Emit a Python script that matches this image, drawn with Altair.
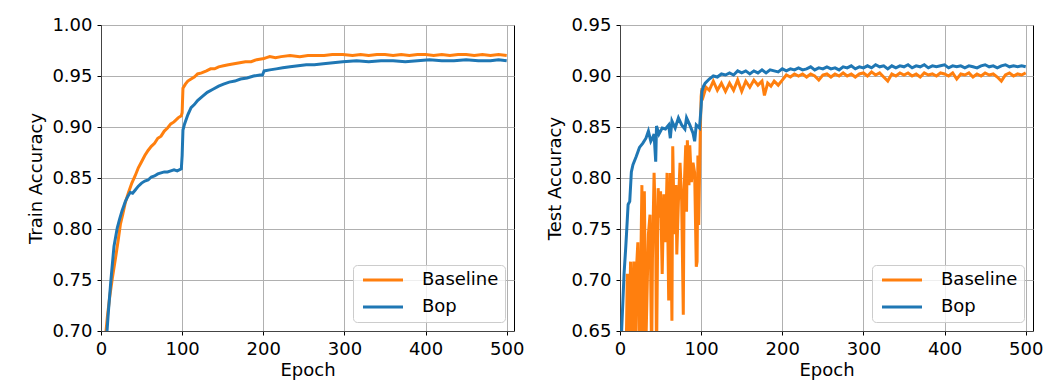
import altair as alt
import pandas as pd

# ---------------- data ----------------
train_base_epoch = [5, 8, 11, 14, 18, 21, 24, 27, 30, 34, 38, 42, 46, 50, 54, 58, 62, 66, 70, 74,
                    78, 82, 86, 90, 95, 99, 100, 101, 104, 107, 111, 115, 119, 124, 130, 135, 140,
                    145, 151, 157, 164, 171, 178, 185, 192, 199, 200, 204, 208, 215, 222, 233, 245,
                    255, 265, 275, 285, 298, 310, 320, 330, 340, 350, 360, 370, 380, 390, 400, 410,
                    420, 430, 440, 450, 460, 470, 480, 490, 500]
train_base_acc = [0.690, 0.715, 0.735, 0.752, 0.772, 0.788, 0.805, 0.815, 0.826, 0.836, 0.845,
                  0.852, 0.860, 0.866, 0.872, 0.877, 0.881, 0.884, 0.889, 0.891, 0.896, 0.899,
                  0.903, 0.905, 0.909, 0.911, 0.914, 0.938, 0.942, 0.945, 0.947, 0.949, 0.952,
                  0.953, 0.955, 0.957, 0.957, 0.959, 0.960, 0.961, 0.962, 0.963, 0.964, 0.964,
                  0.966, 0.967, 0.967, 0.968, 0.969, 0.968, 0.969, 0.970, 0.969, 0.970, 0.970,
                  0.970, 0.971, 0.971, 0.970, 0.971, 0.970, 0.971, 0.971, 0.970, 0.971, 0.970,
                  0.971, 0.971, 0.970, 0.971, 0.970, 0.971, 0.971, 0.970, 0.971, 0.970, 0.971,
                  0.970]

train_bop_epoch = [7, 9, 12, 16, 20, 23, 26, 30, 33, 36, 39, 42, 46, 50, 54, 58, 62, 66, 70, 74,
                   78, 82, 86, 90, 94, 99, 100, 101, 103, 107, 111, 115, 119, 125, 131, 138, 145,
                   151, 158, 165, 172, 180, 188, 196, 199, 200, 201, 208, 216, 224, 233, 243, 253,
                   263, 274, 286, 298, 315, 330, 345, 360, 375, 390, 405, 420, 435, 450, 465, 480,
                   490, 500]
train_bop_acc = [0.695, 0.718, 0.748, 0.783, 0.801, 0.810, 0.818, 0.827, 0.832, 0.836, 0.835,
                 0.838, 0.842, 0.845, 0.847, 0.848, 0.851, 0.852, 0.854, 0.855, 0.856, 0.856,
                 0.857, 0.858, 0.857, 0.859, 0.872, 0.897, 0.903, 0.912, 0.919, 0.922, 0.926,
                 0.930, 0.934, 0.937, 0.940, 0.942, 0.944, 0.945, 0.947, 0.948, 0.950, 0.951,
                 0.951, 0.953, 0.955, 0.956, 0.957, 0.958, 0.959, 0.960, 0.961, 0.961, 0.962,
                 0.963, 0.964, 0.965, 0.964, 0.965, 0.965, 0.964, 0.965, 0.966, 0.965, 0.965,
                 0.966, 0.965, 0.965, 0.966, 0.965]

test_base_epoch = [7, 8, 9, 10, 11, 13, 14, 16, 17, 19, 20, 22, 24, 26, 27, 28, 30, 32, 35, 37,
                   39, 40, 42, 44, 45, 47, 49, 50, 52, 54, 56, 58, 60, 62, 64, 65, 67, 69, 70, 72,
                   74, 76, 78, 79, 81, 82, 83, 85, 86, 88, 90, 92, 94, 95, 96, 97, 99, 100,
                   101, 103, 106, 110, 115, 120, 125, 130, 135, 140, 145, 150, 155, 160, 165, 170,
                   175, 178, 182, 186, 190, 195, 200, 205, 210, 215, 220, 225, 230, 235, 240, 245,
                   250, 255, 260, 265, 270, 275, 280, 285, 290, 295, 300, 305, 310, 315, 320, 325,
                   330, 335, 340, 345, 350, 355, 360, 365, 370, 375, 380, 385, 390, 395, 400, 405,
                   410, 415, 420, 425, 430, 435, 440, 445, 450, 455, 460, 465, 470, 475, 480, 485,
                   490, 495, 500]
test_base_acc = [0.62, 0.65, 0.706, 0.700, 0.62, 0.718, 0.62, 0.688, 0.718, 0.62, 0.706, 0.737,
                 0.62, 0.737, 0.793, 0.64, 0.787, 0.64, 0.745, 0.764, 0.62, 0.721, 0.805, 0.745,
                 0.62, 0.790, 0.761, 0.787, 0.706, 0.784, 0.737, 0.805, 0.680, 0.805, 0.660, 0.831,
                 0.745, 0.793, 0.725, 0.777, 0.815, 0.777, 0.666, 0.787, 0.832, 0.767, 0.837,
                 0.793, 0.832, 0.796, 0.815, 0.805, 0.713, 0.718, 0.822, 0.754, 0.848, 0.880,
                 0.888, 0.881, 0.889, 0.886, 0.895, 0.886, 0.893, 0.885, 0.893, 0.886, 0.896,
                 0.885, 0.895, 0.889, 0.896, 0.891, 0.895, 0.881, 0.893, 0.890, 0.895, 0.891,
                 0.896, 0.901, 0.899, 0.902, 0.900, 0.902, 0.899, 0.902, 0.900, 0.896, 0.901,
                 0.902, 0.899, 0.902, 0.900, 0.903, 0.900, 0.902, 0.899, 0.902, 0.903, 0.900,
                 0.904, 0.901, 0.903, 0.899, 0.895, 0.902, 0.900, 0.903, 0.901, 0.903, 0.900,
                 0.902, 0.899, 0.903, 0.901, 0.902, 0.900, 0.903, 0.902, 0.900, 0.903, 0.897,
                 0.902, 0.901, 0.903, 0.899, 0.902, 0.900, 0.903, 0.901, 0.902, 0.899, 0.895,
                 0.901, 0.903, 0.900, 0.902, 0.901, 0.903]

test_bop_epoch = [1, 2, 5, 7, 8, 10, 12, 14, 16, 20, 24, 28, 32, 35, 38, 40, 42, 44, 45, 48, 52,
                  56, 60, 62, 64, 68, 72, 76, 80, 82, 86, 90, 92, 94, 98, 100,
                  101, 103, 105, 110, 115, 120, 125, 130, 135, 140, 145, 150, 155, 160, 165, 170,
                  175, 180, 185, 190, 195, 200, 205, 210, 215, 220, 225, 230, 235, 240, 245, 250,
                  255, 260, 265, 270, 275, 280, 285, 290, 295, 300, 305, 310, 315, 320, 325, 330,
                  335, 340, 345, 350, 355, 360, 365, 370, 375, 380, 385, 390, 395, 400, 405, 410,
                  415, 420, 425, 430, 435, 440, 445, 450, 455, 460, 465, 470, 475, 480, 485, 490,
                  495, 500]
test_bop_acc = [0.64, 0.65, 0.706, 0.731, 0.745, 0.774, 0.777, 0.806, 0.813, 0.821, 0.830, 0.834,
                0.839, 0.846, 0.836, 0.839, 0.843, 0.816, 0.851, 0.843, 0.849, 0.848, 0.852, 0.839,
                0.856, 0.849, 0.859, 0.852, 0.848, 0.859, 0.852, 0.844, 0.836, 0.852, 0.849, 0.870,
                0.885, 0.890, 0.893, 0.897, 0.900, 0.899, 0.902, 0.901, 0.903, 0.901, 0.905, 0.903,
                0.905, 0.902, 0.905, 0.903, 0.906, 0.903, 0.906, 0.905, 0.904, 0.907, 0.905, 0.907,
                0.906, 0.908, 0.906, 0.907, 0.909, 0.906, 0.908, 0.907, 0.909, 0.907, 0.908, 0.906,
                0.909, 0.908, 0.910, 0.907, 0.909, 0.908, 0.910, 0.908, 0.911, 0.909, 0.910, 0.907,
                0.910, 0.908, 0.910, 0.909, 0.911, 0.908, 0.910, 0.909, 0.911, 0.908, 0.910, 0.909,
                0.910, 0.911, 0.908, 0.910, 0.909, 0.910, 0.908, 0.910, 0.909, 0.908, 0.910, 0.911,
                0.909, 0.910, 0.908, 0.910, 0.911, 0.909, 0.910, 0.909, 0.910, 0.909]

series_names = ["Baseline", "Bop"]
series_colors = ["#ff7f0e", "#1f77b4"]
x_ticks = [0, 100, 200, 300, 400, 500]
train_ticks = [0.70, 0.75, 0.80, 0.85, 0.90, 0.95, 1.00]
test_ticks = [0.65, 0.70, 0.75, 0.80, 0.85, 0.90, 0.95]

FONT = "DejaVu Sans"


def make_df(e1, a1, e2, a2):
    d1 = pd.DataFrame({"epoch": e1, "acc": a1, "series": series_names[0], "k": 0})
    d2 = pd.DataFrame({"epoch": e2, "acc": a2, "series": series_names[1], "k": 1})
    return pd.concat([d1, d2], ignore_index=True)


def panel(df, ytitle, ydomain, yticks):
    return alt.Chart(df).mark_line(strokeWidth=3, clip=True).encode(
        x=alt.X("epoch:Q",
                scale=alt.Scale(domain=[0, 509], nice=False, zero=False),
                axis=alt.Axis(values=x_ticks, format="d", title="Epoch", labelFlush=False)),
        y=alt.Y("acc:Q",
                scale=alt.Scale(domain=ydomain, nice=False, zero=False),
                axis=alt.Axis(values=yticks, format=".2f", title=ytitle)),
        color=alt.Color("series:N",
                        scale=alt.Scale(domain=series_names, range=series_colors),
                        legend=alt.Legend(title=None, orient="bottom-right", offset=9,
                                          symbolType="M-1,0H7", symbolSize=100,
                                          symbolStrokeWidth=3, labelFontSize=18,
                                          labelFont=FONT, labelOffset=45, padding=6,
                                          rowPadding=9, cornerRadius=4,
                                          strokeColor="#cccccc",
                                          fillColor="rgba(255,255,255,0.8)")),
        order=alt.Order("k:Q"),
        detail="series:N",
    ).properties(width=413, height=306)


left = panel(make_df(train_base_epoch, train_base_acc, train_bop_epoch, train_bop_acc),
             "Train Accuracy", [0.70, 1.00], train_ticks)
right = panel(make_df(test_base_epoch, test_base_acc, test_bop_epoch, test_bop_acc),
              "Test Accuracy", [0.65, 0.95], test_ticks)

chart = alt.hconcat(left, right, spacing=106, bounds="flush").resolve_legend(
    color="independent"
).properties(
    padding={"left": 19, "top": 7, "right": 5, "bottom": 5}
).configure_axis(
    labelFont=FONT, titleFont=FONT, labelFontSize=18, titleFontSize=18,
    titleFontWeight="normal", labelColor="#000", titleColor="#000",
    tickColor="#000", tickSize=4, tickWidth=1, labelPadding=5,
    domainColor="#444", domainWidth=1,
    gridColor="#b0b0b0", gridWidth=1,
).configure_axisY(titlePadding=6).configure_axisX(titlePadding=3).configure_view(
    stroke="#000", strokeWidth=1
)

chart.save("out.html", embed_options={"renderer": "svg", "actions": False})
